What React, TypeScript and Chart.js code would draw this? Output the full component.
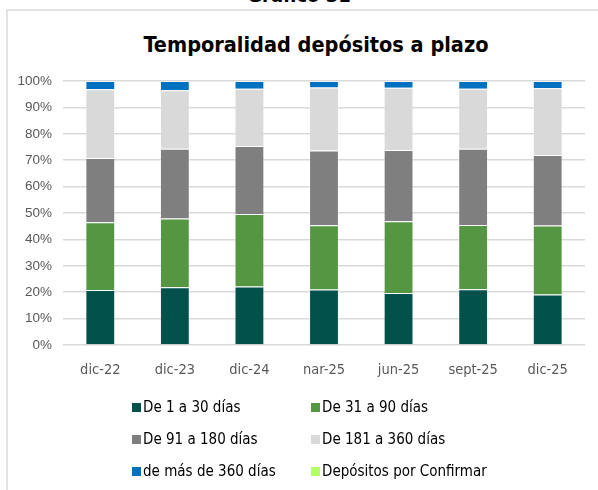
import React, { useEffect, useRef } from "react";
import { Chart, registerables } from "chart.js";

Chart.register(...registerables);

const categories = ["dic-22", "dic-23", "dic-24", "nar-25", "jun-25", "sept-25", "dic-25"];
const seriesNames = [
  "De 1 a 30 días",
  "De 31 a 90 días",
  "De 91 a 180 días",
  "De 181 a 360 días",
  "de más de 360 días",
  "Depósitos por Confirmar",
];
const seriesColors = ["#02514A", "#559643", "#7F7F7F", "#D9D9D9", "#0070C0", "#B3FF66"];
const d1a30 = [20.8, 21.9, 22.2, 21.0, 19.7, 21.1, 19.1];
const d31a90 = [25.7, 26.0, 27.4, 24.4, 27.2, 24.4, 26.2];
const d91a180 = [24.3, 26.4, 25.8, 28.3, 27.0, 28.8, 26.7];
const d181a360 = [26.1, 22.2, 21.7, 23.8, 23.5, 22.8, 25.3];
const dMas360 = [3.1, 3.5, 2.9, 2.5, 2.6, 2.9, 2.7];
const dPorConfirmar = [0, 0, 0, 0, 0, 0, 0];
const seriesValues = [d1a30, d31a90, d91a180, d181a360, dMas360, dPorConfirmar];
const yTicks = [0, 10, 20, 30, 40, 50, 60, 70, 80, 90, 100];

const FONT = "'DejaVu Sans Condensed', 'DejaVu Sans', sans-serif";

export default function App() {
  const ref = useRef<HTMLCanvasElement | null>(null);

  useEffect(() => {
    if (!ref.current) return;
    const chart = new Chart(ref.current, {
      type: "bar",
      data: {
        labels: categories,
        datasets: seriesNames.map((name, i) => ({
          label: name,
          data: seriesValues[i],
          backgroundColor: seriesColors[i],
          borderColor: "rgba(255,255,255,0.3)",
          borderWidth: 1,
          categoryPercentage: 1,
          barPercentage: 0.4,
        })),
      },
      options: {
        responsive: false,
        animation: false,
        layout: { padding: { left: 8, right: 13, top: 81, bottom: 0 } },
        plugins: {
          legend: { display: false },
          tooltip: { enabled: false },
          title: { display: false },
        },
        scales: {
          x: {
            stacked: true,
            grid: { display: false, drawTicks: false },
            border: { display: false },
            ticks: {
              color: "#595959",
              font: { family: FONT, size: 14.5 },
              padding: 17,
              maxRotation: 0,
            },
            afterFit: (s: any) => {
              s.height = 55;
            },
          },
          y: {
            stacked: true,
            min: 0,
            max: 100,
            afterBuildTicks: (s: any) => {
              s.ticks = yTicks.map((v) => ({ value: v }));
            },
            grid: { color: "#D9D9D9", lineWidth: 1.5, drawTicks: false },
            border: { display: false },
            ticks: {
              color: "#595959",
              font: { family: "'Liberation Sans', Arial, sans-serif", size: 13.5 },
              padding: 11,
              callback: (v: any) => v + "%",
            },
            afterFit: (s: any) => {
              s.width = 55;
            },
          },
        },
      },
    });
    return () => chart.destroy();
  }, []);

  return (
    <div
      style={{
        position: "fixed",
        left: 0,
        top: 0,
        width: 598,
        height: 490,
        overflow: "hidden",
        background: "#ffffff",
      }}
    >
      <div
        style={{
          position: "absolute",
          left: 0,
          top: -17,
          width: 598,
          textAlign: "center",
          fontFamily: FONT,
          fontWeight: "bold",
          fontSize: 20,
          lineHeight: "24px",
          color: "#000",
        }}
      >
        Gráfico 31
      </div>
      <div
        style={{
          position: "absolute",
          left: 6,
          top: 9,
          width: 620,
          height: 520,
          border: "2px solid #E3E3E3",
          boxSizing: "border-box",
        }}
      />
      <div
        style={{
          position: "absolute",
          left: 16,
          top: 31,
          width: 600,
          textAlign: "center",
          fontFamily: FONT,
          fontWeight: "bold",
          fontSize: 21.5,
          lineHeight: "28px",
          color: "#000",
          whiteSpace: "nowrap",
        }}
      >
        Temporalidad depósitos a plazo
      </div>
      <canvas ref={ref} width={598} height={400} style={{ position: "absolute", left: 0, top: 0 }} />
      {seriesNames.map((name, i) => {
        const row = Math.floor(i / 2);
        const col = i % 2;
        return (
          <div
            key={name}
            style={{
              position: "absolute",
              left: col === 0 ? 132 : 311,
              top: 407 + row * 32 - 10,
              height: 20,
              display: "flex",
              alignItems: "center",
              fontFamily: FONT,
              fontSize: 15,
              color: "#000",
              whiteSpace: "nowrap",
            }}
          >
            <span
              style={{
                display: "inline-block",
                width: 9,
                height: 9,
                background: seriesColors[i],
                marginRight: 2,
              }}
            />
            {name}
          </div>
        );
      })}
    </div>
  );
}
